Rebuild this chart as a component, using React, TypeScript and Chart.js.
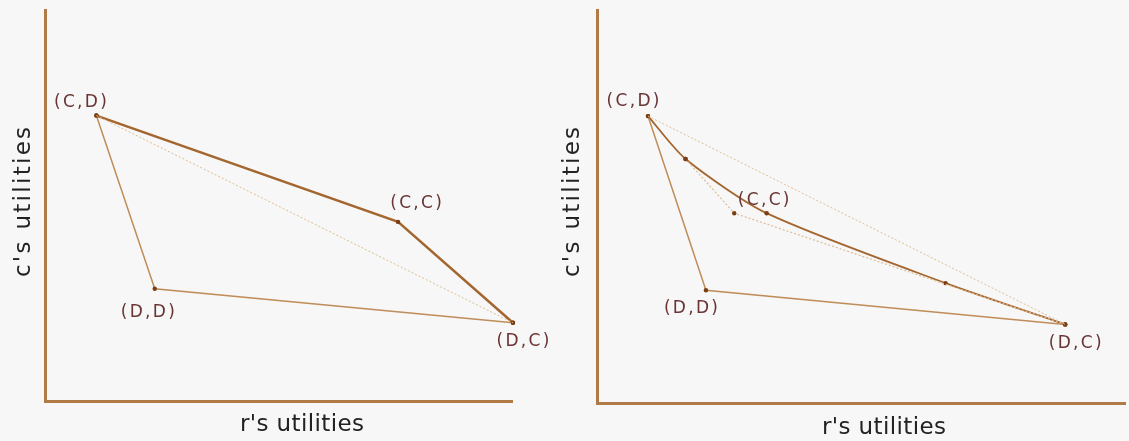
import React, { useEffect, useRef } from "react";
import { Chart, registerables } from "chart.js";

Chart.register(...registerables);

const FONT = "'DejaVu Sans', 'Liberation Sans', Arial, sans-serif";

// Outcome order: (C,D), (C,C), (D,D), (D,C)
const OUTCOMES = ["(C,D)", "(C,C)", "(D,D)", "(D,C)"];

// Left panel: r's and c's utilities for each outcome
const LEFT_R = [1.1, 7.56, 2.35, 10.02];
const LEFT_C = [7.3, 4.58, 2.87, 2.0];

// Right panel: r's and c's utilities for each outcome
const RIGHT_R = [1.1, 3.66, 2.35, 10.1];
const RIGHT_C = [7.3, 4.83, 2.87, 2.0];

// Right panel: curved frontier through intermediate points
const CURVE_R = [1.1, 1.91, 3.66, 7.52, 10.1];
const CURVE_C = [7.3, 6.21, 4.83, 3.05, 2.0];

// Right panel: faint mixed path
const MIX_R = [1.91, 2.96, 10.1];
const MIX_C = [6.21, 4.83, 2.0];

const X_TITLE = "r's utilities";
const Y_TITLE = "c's utilities";

// Styling / layout (not data)
const LEFT_LABEL_OFFSETS = [[-16, -13], [18, -18], [-7, 24], [10, 19]];
const RIGHT_LABEL_OFFSETS = [[-15, -15], [-3, -13], [-15, 18], [10, 19]];

const BG = "#f7f7f7";
const AXIS = "#b07a47";
const THICK = "#a4662f";
const MED = "#bf8d5a";
const FAINT = "#dfbb94";
const POINT = "#7a3e12";
const LABEL = "#6a3434";
const TITLE = "#222222";

const pts = (rs: number[], cs: number[], idx: number[]) =>
  idx.map((i) => ({ x: rs[i], y: cs[i] }));

function drawSpaced(ctx: CanvasRenderingContext2D, text: string, cx: number, cy: number, spacing: number) {
  (ctx as any).letterSpacing = "0px";
  const w0 = ctx.measureText(text).width;
  const total = w0 + spacing * (text.length - 1);
  (ctx as any).letterSpacing = `${spacing}px`;
  ctx.textAlign = "left";
  ctx.fillText(text, cx - total / 2, cy);
  (ctx as any).letterSpacing = "0px";
}

const textPlugin = {
  id: "gameText",
  afterDatasetsDraw(chart: any, _args: any, opts: any) {
    const ctx: CanvasRenderingContext2D = chart.ctx;
    const xs = chart.scales.x;
    const ys = chart.scales.y;
    ctx.save();
    // outcome labels
    ctx.font = `17px ${FONT}`;
    ctx.fillStyle = LABEL;
    ctx.textBaseline = "middle";
    opts.labels.forEach((lab: string, i: number) => {
      const px = xs.getPixelForValue(opts.r[i]) + opts.offsets[i][0];
      const py = ys.getPixelForValue(opts.c[i]) + opts.offsets[i][1];
      drawSpaced(ctx, lab, px, py, 2.3);
    });
    // axis titles
    ctx.font = `23px ${FONT}`;
    ctx.fillStyle = TITLE;
    ctx.textBaseline = "alphabetic";
    drawSpaced(ctx, X_TITLE, opts.xTitleX, opts.xTitleY, 0.4);
    ctx.translate(opts.yTitleX, opts.yTitleY);
    ctx.rotate(-Math.PI / 2);
    drawSpaced(ctx, Y_TITLE, 0, 0, 2.3);
    ctx.restore();
  },
};

const lineDs = (data: any[], color: string, width: number, opts: any = {}) => ({
  data,
  showLine: true,
  borderColor: color,
  borderWidth: width,
  pointRadius: 2.2,
  pointBackgroundColor: POINT,
  pointBorderWidth: 0,
  clip: false,
  ...opts,
});

function makeOptions(xMax: number, padding: any, text: any) {
  return {
    animation: false,
    responsive: false,
    devicePixelRatio: 1,
    events: [],
    layout: { padding },
    plugins: {
      legend: { display: false },
      tooltip: { enabled: false },
      gameText: text,
    },
    scales: {
      x: {
        type: "linear",
        min: 0,
        max: xMax,
        grid: { display: false, drawTicks: false },
        ticks: { display: false },
        border: { display: true, color: AXIS, width: 3 },
      },
      y: {
        type: "linear",
        min: 0,
        max: 10,
        grid: { display: false, drawTicks: false },
        ticks: { display: false },
        border: { display: true, color: AXIS, width: 3 },
      },
    },
  } as any;
}

function Panel({ kind, width }: { kind: "left" | "right"; width: number }) {
  const ref = useRef<HTMLCanvasElement>(null);
  useEffect(() => {
    if (!ref.current) return;
    let datasets: any[];
    let options: any;
    if (kind === "left") {
      datasets = [
        lineDs(pts(LEFT_R, LEFT_C, [0, 3]), FAINT, 1, { borderDash: [2, 2], pointRadius: 0 }),
        lineDs(pts(LEFT_R, LEFT_C, [0, 2, 3]), MED, 1.5),
        lineDs(pts(LEFT_R, LEFT_C, [0, 1, 3]), THICK, 2.5),
      ];
      options = makeOptions(10, { left: 45, right: 48, top: 10, bottom: 40 }, {
        labels: OUTCOMES,
        r: LEFT_R,
        c: LEFT_C,
        offsets: LEFT_LABEL_OFFSETS,
        xTitleX: 302,
        xTitleY: 431,
        yTitleX: 30,
        yTitleY: 202,
      });
    } else {
      datasets = [
        lineDs(pts(RIGHT_R, RIGHT_C, [0, 3]), FAINT, 1, { borderDash: [2, 2], pointRadius: 0 }),
        lineDs(MIX_R.map((r, i) => ({ x: r, y: MIX_C[i] })), FAINT, 1.2, { borderDash: [2, 2] }),
        lineDs(pts(RIGHT_R, RIGHT_C, [0, 2, 3]), MED, 1.5),
        lineDs(CURVE_R.map((r, i) => ({ x: r, y: CURVE_C[i] })), THICK, 1.8, { tension: 0.25 }),
      ];
      options = makeOptions(11.39, { left: 37, right: 0, top: 10, bottom: 38 }, {
        labels: OUTCOMES,
        r: RIGHT_R,
        c: RIGHT_C,
        offsets: RIGHT_LABEL_OFFSETS,
        xTitleX: 324,
        xTitleY: 434,
        yTitleX: 19,
        yTitleY: 202,
      });
    }
    const chart = new Chart(ref.current, {
      type: "scatter",
      data: { datasets },
      options,
      plugins: [textPlugin],
    } as any);
    return () => chart.destroy();
  }, [kind]);
  return <canvas ref={ref} width={width} height={441} style={{ display: "block", width, height: 441 }} />;
}

export default function App() {
  return (
    <div
      style={{
        position: "fixed",
        left: 0,
        top: 0,
        width: 1129,
        height: 441,
        background: BG,
        display: "flex",
        flexDirection: "row",
      }}
    >
      <Panel kind="left" width={560} />
      <Panel kind="right" width={569} />
    </div>
  );
}
